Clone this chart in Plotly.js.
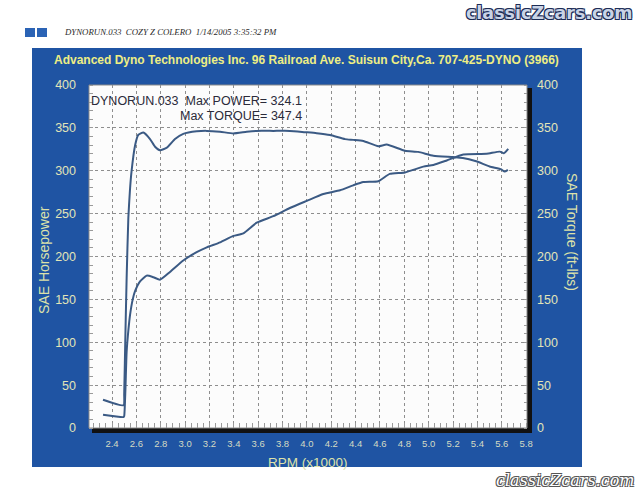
<!DOCTYPE html>
<html><head><meta charset="utf-8">
<script src="https://cdn.plot.ly/plotly-3.0.1.min.js"></script>
<style>html,body{margin:0;padding:0;background:#fff;} #chart{width:640px;height:494px;}</style>
</head><body><div id="chart"></div>
<script>
// ---- data read from the dyno sheet ----
const rpmTorque = [2.326, 2.495, 2.500, 2.510, 2.520, 2.534, 2.547, 2.560, 2.590, 2.616, 2.657, 2.712, 2.753, 2.794, 2.850, 2.917, 2.985, 3.095, 3.178, 3.287, 3.396, 3.506, 3.588, 3.724, 3.860, 3.985, 4.080, 4.190, 4.313, 4.380, 4.463, 4.586, 4.655, 4.805, 4.914, 5.038, 5.200, 5.280, 5.390, 5.500, 5.596, 5.623, 5.650];
const torque    = [33, 26.5, 40, 110, 175, 245, 277, 299, 330, 342, 344.5, 337, 328, 324, 327, 337, 343, 346, 346.5, 345.5, 343.5, 345.5, 346.5, 346.5, 346.5, 345, 343.8, 341.6, 336.9, 336, 334.7, 328.6, 330.5, 323.3, 322, 317.5, 316, 315, 311, 305, 301.6, 299, 301];
const rpmPower  = [2.326, 2.495, 2.500, 2.510, 2.520, 2.535, 2.548, 2.570, 2.589, 2.630, 2.685, 2.740, 2.794, 2.876, 2.985, 3.095, 3.178, 3.287, 3.396, 3.478, 3.588, 3.724, 3.860, 3.999, 4.135, 4.272, 4.380, 4.463, 4.586, 4.680, 4.805, 4.956, 5.038, 5.148, 5.284, 5.475, 5.584, 5.617, 5.653];
const power     = [15.5, 12.8, 14, 45, 89, 115, 132, 150, 159.5, 171, 177.7, 175.8, 173, 182, 195.4, 205, 210.7, 216.5, 224, 227, 239.4, 247, 256.6, 264.9, 272.9, 277.3, 283, 286.8, 287.8, 296.3, 298, 304.8, 306.7, 312, 319, 319.8, 322.3, 320.3, 325.4];
const xTickVals = [2.4, 2.6, 2.8, 3.0, 3.2, 3.4, 3.6, 3.8, 4.0, 4.2, 4.4, 4.6, 4.8, 5.0, 5.2, 5.4, 5.6, 5.8];
const xTickText = ["2.4","2.6","2.8","3.0","3.2","3.4","3.6","3.8","4.0","4.2","4.4","4.6","4.8","5.0","5.2","5.4","5.6","5.8"];
const yTickVals = [0, 50, 100, 150, 200, 250, 300, 350, 400];
const titleText = "Advanced Dyno Technologies Inc. 96 Railroad Ave. Suisun City,Ca. 707-425-DYNO (3966)";
const headerText = "DYNORUN.033\u00a0\u00a0COZY Z COLERO\u00a0\u00a01/14/2005 3:35:32 PM";
const infoLine1 = "DYNORUN.033\u00a0\u00a0Max POWER= 324.1";
const infoLine2 = "Max TORQUE= 347.4";

// ---- layout geometry (pixels) ----
const W = 640, H = 494, L = 89, R = 527, T = 85, B = 428;
const px = v => (v - L) / (R - L);
const py = v => (B - v) / (B - T);

const lineColor = '#3b5a84';
const panel = '#1f54a3';
const tickCol = '#e2e5b8';

const traces = [
  {x: rpmPower, y: power, type: 'scatter', mode: 'lines', line: {color: lineColor, width: 2, shape: 'spline', smoothing: 0.5}, yaxis: 'y', hoverinfo: 'skip'},
  {x: rpmTorque, y: torque, type: 'scatter', mode: 'lines', line: {color: lineColor, width: 2, shape: 'spline', smoothing: 0.5}, yaxis: 'y2', hoverinfo: 'skip'}
];

const baseFont = 'Liberation Sans, Arial, sans-serif';

const layout = {
  width: W, height: H,
  margin: {l: L, r: W - R, t: T, b: H - B, pad: 0},
  paper_bgcolor: '#ffffff',
  plot_bgcolor: 'rgba(0,0,0,0)',
  showlegend: false,
  xaxis: {
    range: [2.211, 5.807], tickmode: 'array', tickvals: xTickVals, ticktext: xTickText,
    showgrid: true, gridcolor: '#8e8e8e', griddash: 'dot', gridwidth: 1,
    zeroline: false, showline: false, ticks: '',
    tickfont: {family: baseFont, size: 9.5, color: '#d4dbc4'},
    ticklabelstandoff: 8,
    minor: {tickmode: 'linear', tick0: 2.4, dtick: 0.05, ticks: 'inside', ticklen: 5, tickcolor: '#9a9a9a', tickwidth: 1, showgrid: false}
  },
  yaxis: {
    range: [0, 400], tickmode: 'array', tickvals: yTickVals,
    showgrid: true, gridcolor: '#8e8e8e', griddash: 'dot', gridwidth: 1,
    zeroline: false, showline: false, ticks: '',
    tickfont: {family: baseFont, size: 12.5, color: tickCol},
    ticklabelstandoff: 12,
    minor: {tickmode: 'linear', tick0: 0, dtick: 10, ticks: 'inside', ticklen: 4, tickcolor: '#9a9a9a', tickwidth: 1, showgrid: false}
  },
  yaxis2: {
    range: [0, 400], tickmode: 'array', tickvals: yTickVals, overlaying: 'y', side: 'right',
    showgrid: false, zeroline: false, showline: false, ticks: '',
    tickfont: {family: baseFont, size: 12.5, color: tickCol},
    ticklabelstandoff: 9,
    minor: {tickmode: 'linear', tick0: 0, dtick: 10, ticks: 'inside', ticklen: 3, tickcolor: '#9a9a9a', tickwidth: 1, showgrid: false}
  },
  shapes: [
    {type: 'rect', xref: 'paper', yref: 'paper', x0: px(32), x1: px(582), y0: py(467), y1: py(48), fillcolor: panel, line: {width: 0}, layer: 'below'},
    {type: 'rect', xref: 'paper', yref: 'paper', x0: px(92), x1: px(532), y0: py(433), y1: py(88), fillcolor: '#111111', line: {width: 0}, layer: 'below'},
    {type: 'rect', xref: 'paper', yref: 'paper', x0: px(89), x1: px(527), y0: py(428), y1: py(85), fillcolor: '#fcfcfc', line: {color: '#8a8a8a', width: 1}, layer: 'below'},
    {type: 'rect', xref: 'paper', yref: 'paper', x0: px(25), x1: px(35), y0: py(37), y1: py(28), fillcolor: '#2b63b5', line: {width: 0}},
    {type: 'rect', xref: 'paper', yref: 'paper', x0: px(37), x1: px(47), y0: py(37), y1: py(28), fillcolor: '#2b63b5', line: {width: 0}}
  ],
  annotations: [
    {text: titleText, xref: 'paper', yref: 'paper', x: px(306), y: py(60), xanchor: 'center', yanchor: 'middle', showarrow: false,
     font: {family: baseFont, size: 12, color: '#eeee84', weight: 'bold'}},
    {text: headerText, xref: 'paper', yref: 'paper', x: px(62), y: py(32), xanchor: 'left', yanchor: 'middle', showarrow: false,
     font: {family: 'Liberation Serif, Times New Roman, serif', size: 8.8, color: '#2a2a2a', style: 'italic'}},
    {text: 'SAE Horsepower', xref: 'paper', yref: 'paper', x: px(44), y: py(260), xanchor: 'center', yanchor: 'middle', textangle: -90, showarrow: false,
     font: {family: baseFont, size: 14, color: '#dde2aa'}},
    {text: 'SAE Torque (ft-lbs)', xref: 'paper', yref: 'paper', x: px(572), y: py(232), xanchor: 'center', yanchor: 'middle', textangle: 90, showarrow: false,
     font: {family: baseFont, size: 14, color: '#dde2aa'}},
    {text: 'RPM (x1000)', xref: 'paper', yref: 'paper', x: px(308), y: py(462), xanchor: 'center', yanchor: 'middle', showarrow: false,
     font: {family: baseFont, size: 13.5, color: '#dde2aa'}},
    {text: infoLine1, xref: 'paper', yref: 'paper', x: px(89), y: py(101), xanchor: 'left', yanchor: 'middle', showarrow: false,
     font: {family: baseFont, size: 12.5, color: '#2b2b3a'}},
    {text: infoLine2, xref: 'paper', yref: 'paper', x: px(304), y: py(116), xanchor: 'right', yanchor: 'middle', showarrow: false,
     font: {family: baseFont, size: 12.5, color: '#2b2b3a'}},
    {text: 'classicZcars.com', xref: 'paper', yref: 'paper', x: px(549), y: py(13), xanchor: 'center', yanchor: 'middle', showarrow: false,
     font: {family: 'DejaVu Sans, sans-serif', size: 17.5, color: '#c9d3e6', weight: 'bold',
            shadow: '1px 1px 0 #1c2c55, -1px -1px 0 #1c2c55, 1px -1px 0 #1c2c55, -1px 1px 0 #1c2c55'}},
    {text: 'classicZcars.com', xref: 'paper', yref: 'paper', x: px(565), y: py(480), xanchor: 'center', yanchor: 'middle', showarrow: false,
     font: {family: 'DejaVu Serif, serif', size: 16, color: '#ffffff', style: 'italic',
            shadow: '1px 1px 0 #555, -1px -1px 0 #555, 1px -1px 0 #555, -1px 1px 0 #555'}}
  ]
};

Plotly.newPlot('chart', traces, layout, {staticPlot: true, displayModeBar: false});
</script>
</body></html>
